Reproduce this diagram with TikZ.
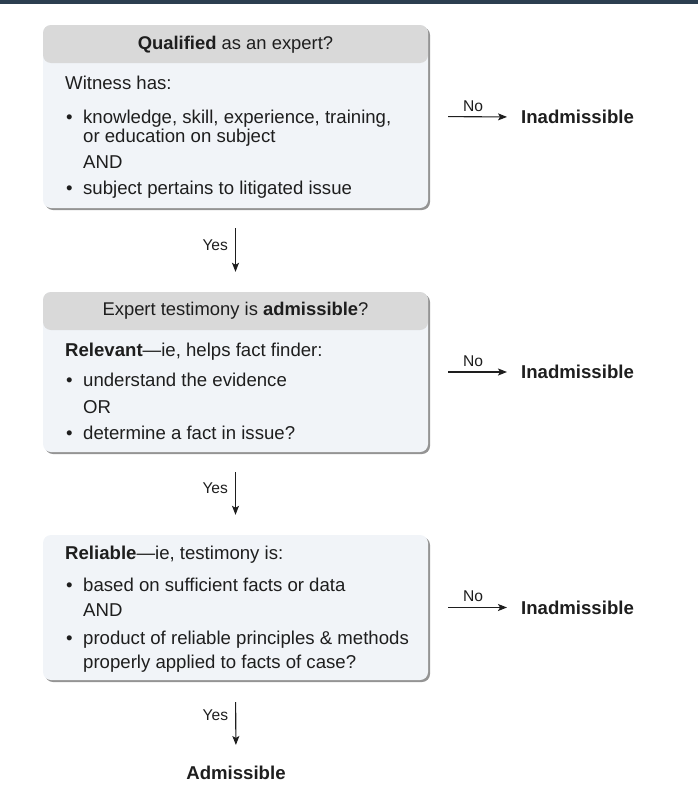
\documentclass[tikz,border=0pt]{standalone}
\usepackage{fontspec}
\setmainfont{Liberation Sans}
\usepackage{xcolor}
\usetikzlibrary{arrows.meta, positioning, shadows}
\definecolor{headgray}{HTML}{D9D9D9}
\definecolor{bodyblue}{HTML}{F1F4F8}
\definecolor{inkdark}{HTML}{1E1E1E}
\definecolor{topbar}{HTML}{2C3E50}
\newcommand{\bul}{\makebox[18pt][l]{\hspace{1pt}\textbullet}}
\newcommand{\ind}{\hspace*{18pt}}

\begin{document}
\begin{tikzpicture}[x=1pt, y=-1pt,
    box/.style={rounded corners=8pt, fill=bodyblue, minimum width=385pt, inner sep=0pt,
        drop shadow={shadow xshift=2pt, shadow yshift=-2pt, fill=black!60, opacity=0.7}},
    headbox/.style={box, path picture={\fill[headgray] (path picture bounding box.north west) rectangle ([yshift=-38pt]path picture bounding box.north east);}},
    body/.style={font=\fontsize{18.6}{19}\selectfont, text=inkdark, align=left, inner sep=0pt, anchor=north west},
    head/.style={font=\fontsize{18.4}{20}\selectfont, text=inkdark, inner sep=0pt},
    verdict/.style={font=\fontsize{18.6}{20}\selectfont\bfseries, text=inkdark, inner sep=3pt},
    arr/.style={-{Stealth[length=9pt, width=7pt, inset=2pt]}, line width=1.1pt, inkdark},
    lbl/.style={font=\fontsize{15.6}{17}\selectfont, text=inkdark, inner sep=2pt}
]
    \useasboundingbox (0,0) rectangle (698,787);
    \fill[topbar] (0,0) rectangle (698,3.5);

    % Boxes
    \node[headbox, minimum height=183pt] (qual) at (235.5, 116.5) {};
    \node[headbox, minimum height=160pt] (relv) at (235.5, 372) {};
    \node[box, minimum height=145pt]     (reli) at (235.5, 607.5) {};

    % Box texts
    \node[head] (qualhead) at (235.5, 45) {\textbf{Qualified} as an expert?};
    \node[body] (qualbody) at (65, 76) {Witness has:\\[15pt]
        \bul knowledge, skill, experience, training,\\
        \ind or education on subject\\[7pt]
        \ind AND\\[7pt]
        \bul subject pertains to litigated issue};

    \node[head] (relvhead) at (235.5, 311) {Expert testimony is \textbf{admissible}?};
    \node[body] (relvbody) at (65, 343) {\textbf{Relevant}—ie, helps fact finder:\\[11pt]
        \bul understand the evidence\\[8pt]
        \ind OR\\[7pt]
        \bul determine a fact in issue?};

    \node[body] (relibody) at (65, 546) {\textbf{Reliable}—ie, testimony is:\\[13pt]
        \bul based on sufficient facts or data\\[6pt]
        \ind AND\\[9pt]
        \bul product of reliable principles \& methods\\[5pt]
        \ind properly applied to facts of case?};

    % Outcomes
    \node[verdict, anchor=west] (inadq) at (518, 117)   {Inadmissible};
    \node[verdict, anchor=west] (inadv) at (518, 372)   {Inadmissible};
    \node[verdict, anchor=west] (inadr) at (518, 607.5) {Inadmissible};
    \node[verdict] (adm) at (236, 773) {Admissible};

    % Yes arrows
    \draw[arr, shorten <=20pt, shorten >=20pt] (qual.south) -- (relv.north) node[lbl, pos=0.44, left, xshift=-5pt] {Yes};
    \draw[arr, shorten <=20pt, shorten >=20pt] (relv.south) -- (reli.north) node[lbl, pos=0.44, left, xshift=-5pt] {Yes};
    \draw[arr, shorten <=22pt, shorten >=18pt] (reli.south) -- (adm.north) node[lbl, pos=0.42, left, xshift=-5pt] {Yes};

    % No arrows
    \draw[arr, shorten <=20pt, shorten >=11pt] (qual.east) -- (inadq.west) node[lbl, midway, above, yshift=3pt] {No};
    \draw[arr, shorten <=20pt, shorten >=11pt] (relv.east) -- (inadv.west) node[lbl, midway, above, yshift=3pt] {No};
    \draw[arr, shorten <=20pt, shorten >=11pt] (reli.east) -- (inadr.west) node[lbl, midway, above, yshift=3pt] {No};
\end{tikzpicture}
\end{document}
